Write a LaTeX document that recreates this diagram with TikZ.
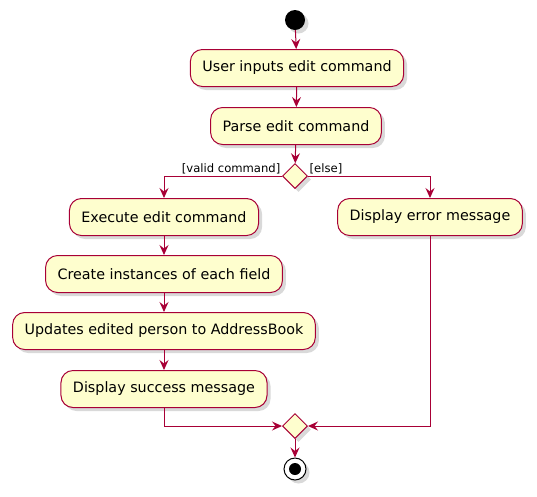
\documentclass[tikz,border=0pt]{standalone}
\usepackage{fontspec}
\setmainfont{DejaVu Sans}
\usepackage{tikz}
\usetikzlibrary{arrows.meta,shapes.geometric,shadows}
\definecolor{umlred}{HTML}{A80036}
\definecolor{umlfill}{HTML}{FEFECE}

\begin{document}
\begin{tikzpicture}[x=1pt,y=-1pt]
        \useasboundingbox (0,0) rectangle (537,496);
        \tikzstyle{every node} = [font=\fontsize{14.3}{16}\selectfont]
        \tikzstyle{shade} = [drop shadow={shadow xshift=3.5pt, shadow yshift=-3.5pt, opacity=0.3}]
        \tikzstyle{act} = [rectangle, rounded corners=12pt, draw=umlred, fill=umlfill, line width=1pt, minimum height=37pt, inner xsep=12pt, shade]
        \tikzstyle{branch} = [diamond, draw=umlred, fill=umlfill, line width=1pt, minimum size=25pt, inner sep=0pt, shade]
        \tikzstyle{flow} = [draw=umlred, line width=1pt, -{Stealth[length=10pt,width=9pt,inset=3.5pt]}]
        \tikzstyle{guard} = [font=\fontsize{11.6}{13}\selectfont, inner sep=1.5pt]

        \node[circle, fill=black, minimum size=20pt, inner sep=0pt, shade] (start) at (295,20) {};
        \node[act] (user) at (297,68) {User inputs edit command};
        \node[act] (parse) at (296,126) {Parse edit command};
        \node[branch] (split) at (295,176) {};
        \node[act] (exec) at (164,217) {Execute edit command};
        \node[act] (create) at (164,274) {Create instances of each field};
        \node[act] (update) at (164,331) {Updates edited person to AddressBook};
        \node[act] (success) at (164,389) {Display success message};
        \node[act] (error) at (430,217) {Display error message};
        \node[branch] (merge) at (295,426) {};
        \node[circle, draw=black, fill=white, line width=1pt, minimum size=22pt, inner sep=0pt, shade] (stop) at (295,469) {};
        \node[circle, fill=black, minimum size=12pt, inner sep=0pt] (stopdot) at (stop) {};

        \node[guard, anchor=south east] (valid) at (split.west) {[valid command]};
        \node[guard, anchor=south west] (else) at (split.east) {[else]};

        \foreach \from/\to in {start/user, user/parse, parse/split, exec/create, create/update, update/success, merge/stop}
            \draw[flow] (\from) -- (\to);
        \draw[flow] (split.west) -| (exec);
        \draw[flow] (split.east) -| (error);
        \draw[flow] (success) |- (merge.west);
        \draw[flow] (error) |- (merge.east);
      \end{tikzpicture}
\end{document}
